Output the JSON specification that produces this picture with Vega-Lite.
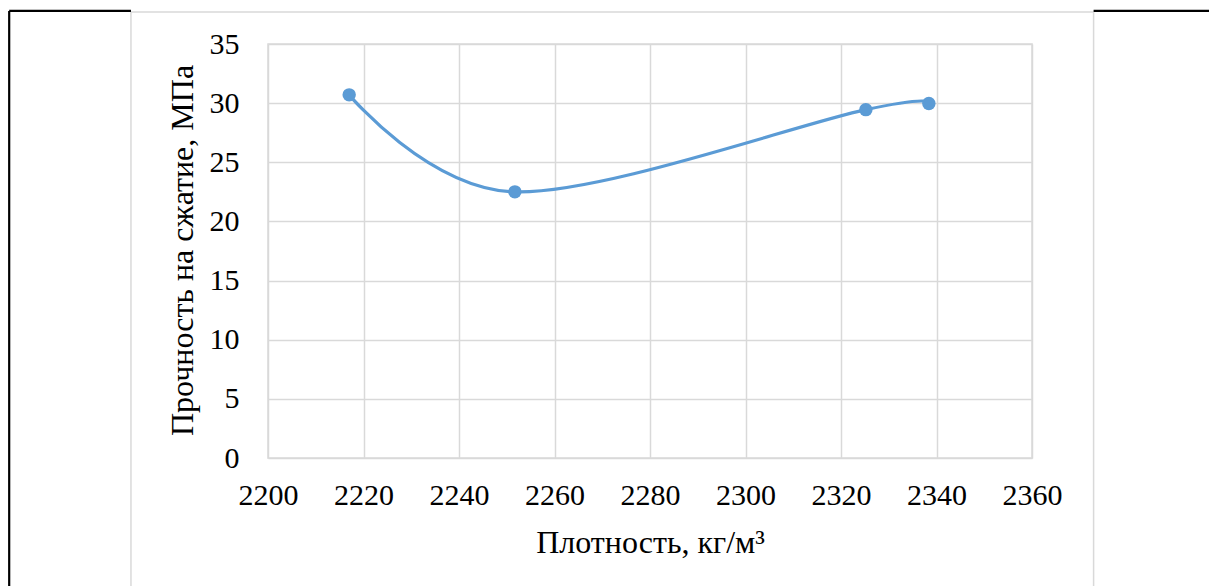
{
  "$schema": "https://vega.github.io/schema/vega-lite/v6.json",
  "width": 764,
  "height": 414,
  "autosize": {"type": "none"},
  "padding": {"left": 268, "top": 44, "right": 177, "bottom": 128},
  "background": "white",
  "config": {
    "font": "Liberation Serif",
    "view": {"stroke": "#d9d9d9", "strokeWidth": 1.5}
  },
  "datasets": {
    "points": [
      {"density": 2217, "strength": 30.7},
      {"density": 2251.7, "strength": 22.5},
      {"density": 2325.2, "strength": 29.45},
      {"density": 2338.4, "strength": 29.97}
    ],
    "grayframe": [
      {"x": 2171.3, "x2": 2171.3, "y": 37.7, "y2": -11},
      {"x": 2372.9, "x2": 2372.9, "y": 37.7, "y2": -11},
      {"x": 2171.3, "x2": 2372.9, "y": 37.7, "y2": 37.7}
    ],
    "blackframe": [
      {"x": 2145.8, "x2": 2145.8, "y": 37.8, "y2": -11},
      {"x": 2145.8, "x2": 2171.3, "y": 37.8, "y2": 37.8},
      {"x": 2372.9, "x2": 2397.5, "y": 37.8, "y2": 37.8}
    ]
  },
  "layer": [
    {
      "data": {"name": "grayframe"},
      "mark": {"type": "rule", "color": "#d9d9d9", "strokeWidth": 1.5, "clip": false},
      "encoding": {
        "x": {"field": "x", "type": "quantitative", "scale": {"domain": [2200, 2360], "nice": false, "zero": false}},
        "x2": {"field": "x2"},
        "y": {"field": "y", "type": "quantitative", "scale": {"domain": [0, 35], "nice": false}},
        "y2": {"field": "y2"}
      }
    },
    {
      "data": {"name": "blackframe"},
      "mark": {"type": "rule", "color": "#000000", "strokeWidth": 2.2, "clip": false},
      "encoding": {
        "x": {"field": "x", "type": "quantitative"},
        "x2": {"field": "x2"},
        "y": {"field": "y", "type": "quantitative"},
        "y2": {"field": "y2"}
      }
    },
    {
      "data": {"name": "points"},
      "mark": {"type": "line", "interpolate": "cardinal", "tension": 0, "color": "#5b9bd5", "strokeWidth": 3.2},
      "encoding": {
        "x": {
          "field": "density", "type": "quantitative",
          "scale": {"domain": [2200, 2360], "nice": false, "zero": false},
          "axis": {
            "values": [2200, 2220, 2240, 2260, 2280, 2300, 2320, 2340, 2360],
            "format": "d", "labelOverlap": false, "labelBound": false, "labelFlush": false,
            "title": "Плотность, кг/м³",
            "grid": true, "gridColor": "#d9d9d9", "gridWidth": 1.5,
            "domain": false, "ticks": false,
            "labelFontSize": 30, "labelColor": "#000000", "labelPadding": 22,
            "labelFont": "Liberation Serif",
            "titleFont": "Liberation Serif", "titleFontSize": 32, "titleFontWeight": "normal", "titleColor": "#000000",
            "titleX": 382, "titleY": 94, "titleBaseline": "alphabetic", "titleAlign": "center"
          }
        },
        "y": {
          "field": "strength", "type": "quantitative",
          "scale": {"domain": [0, 35], "nice": false},
          "axis": {
            "values": [0, 5, 10, 15, 20, 25, 30, 35],
            "labelOverlap": false, "labelBound": false, "labelFlush": false,
            "title": "Прочность на сжатие, МПа",
            "grid": true, "gridColor": "#d9d9d9", "gridWidth": 1.5,
            "domain": false, "ticks": false,
            "labelFontSize": 30, "labelColor": "#000000", "labelPadding": 29,
            "labelFont": "Liberation Serif",
            "titleFont": "Liberation Serif", "titleFontSize": 32, "titleFontWeight": "normal", "titleColor": "#000000",
            "titleX": -76, "titleY": 206, "titleBaseline": "alphabetic", "titleAlign": "center", "titleAngle": -90
          }
        }
      }
    },
    {
      "data": {"name": "points"},
      "mark": {"type": "point", "filled": true, "shape": "circle", "size": 180, "color": "#5b9bd5", "opacity": 1},
      "encoding": {
        "x": {"field": "density", "type": "quantitative"},
        "y": {"field": "strength", "type": "quantitative"}
      }
    }
  ]
}
